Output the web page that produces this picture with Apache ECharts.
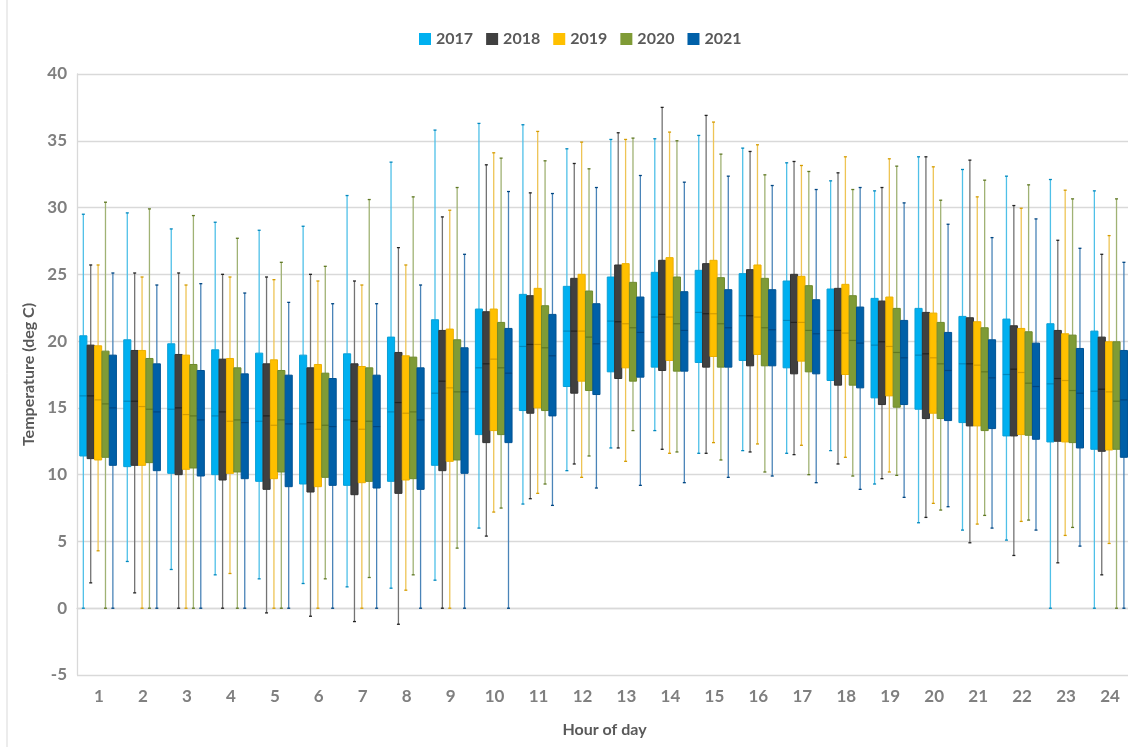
<!DOCTYPE html>
<html lang="en">

<head>
    <meta charset="UTF-8">
    <title>Temperature by hour of day</title>
    <script src="https://cdn.jsdelivr.net/npm/echarts@6/dist/echarts.min.js"></script>
    <style>
        html, body { margin: 0; padding: 0; background: #fff; }
    </style>
</head>

<body>
    <div id="box-chart" style="width: 1128px;height: 747px;"></div>
</body>
<script type="text/javascript">
    // hours on the x axis
    var hours = ['1', '2', '3', '4', '5', '6', '7', '8', '9', '10', '11', '12',
        '13', '14', '15', '16', '17', '18', '19', '20', '21', '22', '23', '24'];
    var years = ['2017', '2018', '2019', '2020', '2021'];

    // [min, q1, median, q3, max] for each hour
    var box2017 = [
        [0, 11.4, 15.9, 20.4, 29.5], [3.5, 10.6, 15.5, 20.1, 29.6], [2.9, 10.1, 14.9, 19.8, 28.4],
        [2.5, 10.0, 14.4, 19.35, 28.9], [2.2, 9.5, 14.0, 19.1, 28.3], [1.85, 9.3, 13.8, 18.95, 28.6],
        [1.6, 9.2, 14.1, 19.05, 30.9], [1.5, 9.5, 14.7, 20.3, 33.4], [2.1, 10.7, 16.1, 21.6, 35.8],
        [6.0, 13.0, 18.0, 22.4, 36.3], [7.8, 14.8, 19.6, 23.5, 36.2], [10.3, 16.6, 20.75, 24.1, 34.4],
        [12.0, 17.7, 21.5, 24.8, 35.1], [13.3, 18.05, 21.8, 25.15, 35.15], [11.6, 18.4, 22.15, 25.3, 35.4],
        [11.8, 18.55, 21.9, 25.05, 34.45], [11.6, 18.0, 21.55, 24.5, 33.35], [11.8, 17.05, 20.8, 23.9, 32.0],
        [9.3, 15.75, 19.7, 23.2, 31.25], [6.4, 14.9, 18.95, 22.45, 33.8], [5.85, 13.9, 18.3, 21.85, 32.85],
        [5.1, 12.9, 17.5, 21.65, 32.35], [0, 12.45, 16.8, 21.3, 32.1], [0, 11.9, 16.25, 20.75, 31.25]
    ];
    var box2018 = [
        [1.9, 11.2, 15.9, 19.7, 25.7], [1.15, 10.7, 15.5, 19.3, 25.1], [0, 10.0, 15.0, 19.0, 25.1],
        [0, 9.6, 14.7, 18.65, 25.0], [-0.35, 8.9, 14.4, 18.3, 24.8], [-0.6, 8.7, 13.9, 18.0, 25.0],
        [-1.0, 8.5, 14.0, 18.3, 24.5], [-1.2, 8.6, 15.4, 19.15, 27.0], [0, 10.3, 17.0, 20.8, 29.3],
        [5.4, 12.4, 18.3, 22.2, 33.2], [8.2, 14.6, 19.75, 23.4, 31.1], [10.8, 16.1, 20.75, 24.7, 33.3],
        [12.0, 17.2, 21.45, 25.7, 35.6], [11.9, 17.8, 22.0, 26.05, 37.5], [11.6, 18.05, 22.05, 25.8, 36.9],
        [11.7, 18.15, 21.9, 25.35, 34.2], [11.5, 17.55, 21.4, 25.0, 33.45], [10.8, 16.7, 20.8, 23.95, 32.6],
        [9.7, 15.25, 19.95, 23.0, 31.5], [6.8, 14.2, 19.05, 22.15, 33.8], [4.9, 13.65, 18.3, 21.75, 33.55],
        [3.95, 12.9, 17.9, 21.15, 30.15], [3.4, 12.5, 17.2, 20.8, 27.55], [2.5, 11.75, 16.4, 20.3, 26.5]
    ];
    var box2019 = [
        [4.3, 11.1, 15.6, 19.65, 25.7], [0, 10.7, 15.1, 19.3, 24.8], [0, 10.4, 14.5, 18.95, 24.2],
        [2.6, 10.1, 14.0, 18.7, 24.8], [0, 9.7, 13.7, 18.6, 24.6], [0, 9.1, 13.4, 18.25, 24.5],
        [0, 9.4, 13.4, 18.1, 24.2], [1.35, 9.6, 14.6, 18.9, 25.7], [0, 11.0, 16.5, 20.9, 29.8],
        [7.2, 13.3, 18.65, 22.4, 34.1], [8.6, 15.0, 19.75, 23.95, 35.7], [9.8, 17.0, 20.75, 25.0, 34.9],
        [11.0, 18.0, 21.3, 25.8, 35.1], [11.6, 18.55, 21.8, 26.25, 35.65], [12.4, 18.85, 22.05, 26.05, 36.4],
        [12.3, 19.0, 21.8, 25.7, 34.7], [12.2, 18.5, 21.4, 24.85, 33.15], [11.3, 17.5, 20.6, 24.25, 33.8],
        [10.2, 15.9, 19.6, 23.3, 33.65], [7.85, 14.6, 18.75, 22.1, 33.05], [6.3, 13.65, 18.2, 21.45, 30.8],
        [6.5, 13.0, 17.65, 20.95, 29.95], [5.45, 12.45, 17.05, 20.55, 31.3], [4.85, 11.85, 16.2, 19.95, 27.9]
    ];
    var box2020 = [
        [0, 11.3, 15.3, 19.25, 30.4], [0, 10.9, 14.9, 18.7, 29.9], [0, 10.5, 14.4, 18.25, 29.4],
        [0, 10.2, 14.1, 18.0, 27.7], [0, 10.2, 14.1, 17.8, 25.9], [2.2, 9.8, 13.7, 17.6, 25.6],
        [2.3, 9.5, 14.0, 18.0, 30.6], [2.5, 9.7, 14.7, 18.8, 30.8], [4.5, 11.1, 16.2, 20.1, 31.5],
        [7.5, 13.0, 18.0, 21.4, 33.7], [9.3, 14.8, 19.5, 22.65, 33.5], [11.4, 16.3, 20.3, 23.75, 32.9],
        [13.3, 17.0, 21.0, 24.4, 35.2], [11.7, 17.75, 21.3, 24.8, 35.0], [11.1, 18.05, 21.3, 24.75, 34.0],
        [10.2, 18.15, 21.0, 24.7, 32.45], [10.0, 17.7, 20.8, 24.15, 32.7], [9.9, 16.7, 20.05, 23.4, 31.35],
        [9.95, 15.05, 19.15, 22.45, 33.1], [7.35, 14.2, 18.3, 21.4, 30.55], [6.95, 13.3, 17.7, 21.0, 32.05],
        [6.6, 12.95, 16.85, 20.7, 31.7], [6.05, 12.4, 16.3, 20.45, 30.65], [0, 11.9, 15.5, 19.95, 30.65]
    ];
    var box2021 = [
        [0, 10.7, 15.0, 18.95, 25.1], [0, 10.3, 14.7, 18.3, 24.2], [0, 9.9, 14.1, 17.8, 24.3],
        [0, 9.7, 13.9, 17.55, 23.6], [0, 9.1, 13.8, 17.45, 22.9], [0, 9.2, 13.6, 17.2, 22.8],
        [0, 9.0, 13.6, 17.45, 22.8], [0, 8.9, 14.1, 18.0, 24.2], [0, 10.1, 16.2, 19.5, 26.5],
        [0, 12.4, 17.6, 20.95, 31.2], [7.7, 14.4, 18.9, 22.0, 31.05], [9.0, 16.0, 19.8, 22.8, 31.5],
        [9.2, 17.3, 20.65, 23.3, 32.4], [9.4, 17.75, 20.8, 23.7, 31.9], [9.8, 18.05, 21.0, 23.85, 32.35],
        [9.9, 18.15, 20.85, 23.85, 31.65], [9.4, 17.55, 20.55, 23.1, 31.35], [8.9, 16.5, 19.85, 22.55, 31.5],
        [8.3, 15.25, 18.75, 21.55, 30.35], [7.6, 14.05, 17.8, 20.65, 28.75], [6.0, 13.45, 17.25, 20.1, 27.75],
        [5.85, 12.65, 16.6, 19.85, 29.15], [4.65, 12.0, 16.1, 19.45, 26.95], [0, 11.3, 15.6, 19.3, 25.9]
    ];
    var allBoxes = [box2017, box2018, box2019, box2020, box2021];

    // fill / edge / median / whisker colours per year
    var palette = [
        { fill: '#00B0F0', edge: '#0A9FD6', median: '#0088BE', whisker: '#4FC0E8' },
        { fill: '#404040', edge: '#333333', median: '#222222', whisker: '#737373' },
        { fill: '#FFC000', edge: '#ECB000', median: '#D49C00', whisker: '#EEC455' },
        { fill: '#7F9B36', edge: '#6F8A2D', median: '#5F7823', whisker: '#A0B274' },
        { fill: '#0060A8', edge: '#005394', median: '#004682', whisker: '#4A84B8' }
    ];

    var font = 'Lato, "Open Sans", sans-serif';
    var labelGrey = '#7F7F7F';

    // draw one box with whiskers, offset inside the hour band by the year index
    function makeRender(k) {
        return function (params, api) {
            var x = api.value(0);
            var band = api.size([1, 0])[0];
            var w = band * 0.162;
            var cx = api.coord([x, 0])[0] + (k - 2) * band * 0.168 - band * 0.02;
            var pMin = api.coord([x, api.value(1)])[1];
            var pQ1 = api.coord([x, api.value(2)])[1];
            var pMed = api.coord([x, api.value(3)])[1];
            var pQ3 = api.coord([x, api.value(4)])[1];
            var pMax = api.coord([x, api.value(5)])[1];
            var c = palette[k];
            var wStyle = { stroke: c.whisker, lineWidth: 1.3 };
            return {
                type: 'group',
                children: [
                    { type: 'line', shape: { x1: cx, y1: pQ3, x2: cx, y2: pMax }, style: wStyle },
                    { type: 'line', shape: { x1: cx, y1: pQ1, x2: cx, y2: pMin }, style: wStyle },
                    { type: 'line', shape: { x1: cx - 1.5, y1: pMax, x2: cx + 1.5, y2: pMax }, style: { stroke: c.median, lineWidth: 1.3 } },
                    { type: 'line', shape: { x1: cx - 1.5, y1: pMin, x2: cx + 1.5, y2: pMin }, style: { stroke: c.median, lineWidth: 1.3 } },
                    {
                        type: 'rect',
                        shape: { x: cx - w / 2, y: pQ3, width: w, height: pQ1 - pQ3 },
                        style: { fill: c.fill, stroke: c.edge, lineWidth: 1 }
                    },
                    { type: 'line', shape: { x1: cx - w / 2, y1: pMed, x2: cx + w / 2, y2: pMed }, style: { stroke: c.median, lineWidth: 1.2 } }
                ]
            };
        };
    }

    var series = years.map(function (yr, k) {
        return {
            name: yr,
            type: 'custom',
            renderItem: makeRender(k),
            itemStyle: { color: palette[k].fill },
            encode: { x: 0, y: [1, 2, 3, 4, 5] },
            data: allBoxes[k].map(function (b, i) {
                return [i, b[0], b[1], b[2], b[3], b[4]];
            })
        };
    });

    var chart = echarts.init(document.getElementById('box-chart'));

    var option = {
        animation: false,
        textStyle: { fontFamily: font },
        legend: {
            data: years,
            top: 26,
            left: 414,
            icon: 'rect',
            itemWidth: 12,
            itemHeight: 12,
            itemGap: 13,
            textStyle: { fontFamily: font, fontWeight: 'bold', fontSize: 16, color: '#595959' }
        },
        grid: { left: 77, top: 74, width: 1055, height: 601, outerBoundsMode: 'none', containLabel: false },
        xAxis: {
            type: 'category',
            data: hours,
            name: 'Hour of day',
            nameLocation: 'middle',
            nameGap: 47,
            nameTextStyle: { fontFamily: font, fontWeight: 'bold', fontSize: 16, color: '#595959' },
            axisTick: { show: false },
            axisLine: { lineStyle: { color: '#D9D9D9', width: 1.3 } },
            axisLabel: { fontFamily: font, fontWeight: 'bold', fontSize: 17, color: labelGrey, margin: 13 }
        },
        yAxis: {
            type: 'value',
            min: -5,
            max: 40,
            interval: 5,
            name: 'Temperature (deg C)',
            nameLocation: 'middle',
            nameGap: 39,
            nameTextStyle: { fontFamily: font, fontWeight: 'bold', fontSize: 16, color: '#595959' },
            axisLine: { show: true, lineStyle: { color: '#D9D9D9', width: 1.3 } },
            axisLabel: { fontFamily: font, fontWeight: 'bold', fontSize: 17, color: labelGrey, margin: 10 },
            splitLine: { lineStyle: { color: '#D9D9D9', width: 1.3 } }
        },
        graphic: [
            { type: 'line', shape: { x1: 7, y1: 0, x2: 7, y2: 747 }, style: { stroke: '#D9D9D9', lineWidth: 1 } }
        ],
        series: series
    };

    chart.setOption(option);
</script>

</html>
